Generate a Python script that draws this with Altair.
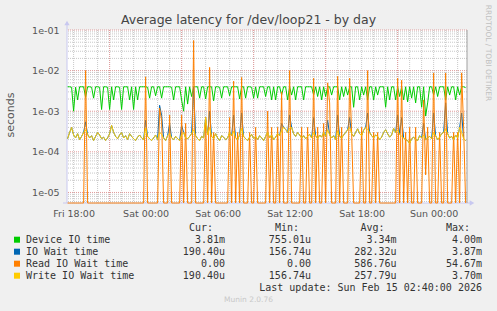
import altair as alt
import pandas as pd

# ---------------- data (milliseconds, 10-minute samples) ----------------
device_ms = [
    4.0, 4.0, 3.9, 1.0, 3.9, 1.9, 4.0, 4.0, 4.0, 2.2,
    4.0, 4.0, 3.9, 2.1, 4.0, 4.0, 3.9, 1.1, 4.0, 4.0,
    3.9, 1.1, 4.0, 1.9, 4.0, 4.0, 3.9, 1.1, 4.0, 4.0,
    4.0, 1.9, 4.0, 1.1, 4.0, 1.9, 4.0, 4.0, 4.0, 4.0,
    3.9, 2.1, 4.0, 4.0, 2.4, 4.0, 4.0, 2.1, 4.0, 4.0,
    4.0, 4.0, 3.9, 1.9, 4.0, 4.0, 4.0, 1.9, 1.0, 4.0,
    1.5, 4.0, 2.3, 4.0, 4.0, 4.0, 2.1, 4.0, 4.0, 2.0,
    4.0, 4.0, 4.0, 1.8, 4.0, 4.0, 3.9, 2.1, 4.0, 4.0,
    4.0, 2.4, 4.0, 4.0, 4.0, 4.0, 2.0, 4.0, 4.0, 2.1,
    4.0, 4.0, 3.9, 2.1, 4.0, 2.1, 4.0, 4.0, 4.0, 2.3,
    4.0, 4.0, 1.9, 4.0, 1.9, 4.0, 4.0, 2.5, 4.0, 4.0,
    1.9, 4.0, 2.5, 4.0, 1.9, 4.0, 4.0, 4.0, 1.9, 4.0,
    4.0, 4.0, 4.0, 2.5, 4.0, 2.3, 4.0, 1.9, 4.0, 2.3,
    4.0, 4.0, 2.5, 4.0, 4.0, 4.0, 1.9, 4.0, 2.3, 4.0,
    2.5, 4.0, 4.0, 1.25, 4.0, 4.0, 1.9, 4.0, 2.5, 4.0,
    1.9, 4.0, 4.0, 1.9, 4.0, 2.5, 4.0, 4.0, 4.0, 1.25,
    4.0, 1.9, 4.0, 4.0, 1.9, 4.0, 2.3, 4.0, 1.9, 4.0,
    1.7, 4.0, 2.1, 4.0, 1.6, 4.0, 4.0, 1.25, 4.0, 0.76,
    1.6, 4.0, 4.0, 2.5, 4.0, 2.3, 4.0, 4.0, 4.0, 1.9,
    4.0, 2.5, 4.0, 4.0, 1.9, 4.0, 2.5, 4.0, 4.0, 3.81,
]

iowait_ms = [
    0.21, 0.30, 0.40, 0.26, 0.22, 0.28, 0.20, 0.24, 0.30, 0.55,
    0.27, 0.22, 0.25, 0.19, 0.24, 0.30, 0.26, 0.21, 0.23, 0.19,
    0.22, 0.28, 0.45, 0.30, 0.24, 0.21, 0.26, 0.30, 0.22, 0.25,
    0.20, 0.28, 0.24, 0.21, 0.19, 0.23, 0.26, 0.22, 0.20, 0.60,
    0.24, 0.21, 0.19, 0.22, 0.26, 0.20, 1.40, 0.80, 0.22, 0.19,
    0.25, 0.50, 0.22, 0.20, 0.24, 0.21, 0.19, 0.45, 0.30, 0.22,
    0.21, 0.24, 0.28, 3.87, 0.25, 0.21, 0.19, 0.24, 0.22, 0.70,
    0.26, 1.00, 0.24, 0.21, 0.28, 0.22, 0.19, 0.25, 0.23, 0.20,
    0.22, 0.30, 0.25, 0.80, 0.22, 0.20, 0.26, 0.90, 0.24, 0.21,
    0.19, 0.23, 0.27, 0.21, 0.24, 0.20, 0.25, 0.22, 0.19, 0.24,
    0.30, 0.22, 0.26, 0.20, 0.23, 0.28, 0.25, 0.50, 0.40, 0.36,
    0.30, 0.80, 0.40, 0.28, 0.24, 0.30, 0.26, 0.22, 0.25, 0.21,
    0.24, 0.27, 0.22, 0.70, 0.25, 0.21, 0.26, 0.23, 0.30, 0.24,
    0.60, 0.26, 0.22, 0.25, 0.20, 0.80, 0.24, 0.22, 0.26, 0.30,
    0.35, 0.70, 0.28, 0.24, 0.30, 0.37, 0.28, 0.25, 0.34, 0.40,
    0.90, 0.30, 0.25, 0.22, 0.26, 0.24, 0.20, 0.23, 0.30, 0.35,
    0.28, 0.23, 0.26, 0.38, 0.30, 0.80, 0.27, 0.70, 0.22, 0.20,
    0.19, 0.16, 0.21, 0.23, 0.20, 0.19, 0.25, 0.22, 0.50, 0.20,
    0.22, 0.24, 0.21, 0.90, 0.25, 0.20, 0.23, 0.28, 0.30, 1.60,
    0.28, 0.22, 0.24, 0.20, 0.26, 0.22, 0.40, 0.90, 0.21, 0.19,
]

read_ms = [
    0, 0, 0, 0, 0, 0, 0, 0, 0, 10.0,
    0, 0, 0, 0, 0, 0, 0, 0, 0, 0,
    0, 0, 0, 0, 0, 0, 0, 0, 0, 0,
    0, 0, 0, 0, 0, 0, 0, 0, 0, 7.0,
    0, 0, 0, 0, 0, 0, 1.2, 0.6, 0, 0,
    0, 0.8, 0, 0, 0, 0, 0, 0.8, 0, 0.5,
    0, 0, 0, 55.0, 0, 0, 0, 0, 0, 0.7,
    0, 12.0, 0, 0.3, 0, 0, 0, 0, 0, 0,
    0, 0.7, 0, 5.5, 0, 0.3, 0, 6.8, 0, 0,
    0, 0.3, 0, 0, 0.4, 0, 0, 0, 0, 0,
    1.0, 0, 0.4, 0, 0, 0.4, 0, 3.0, 0, 0,
    0, 10.0, 0, 0, 0, 0, 0, 0.4, 0, 0,
    0.4, 0, 0, 6.5, 0, 0.4, 0, 0, 0.5, 0,
    5.0, 1.6, 0, 0, 0, 7.2, 0, 0.4, 0, 0,
    0, 6.5, 0.3, 0, 0, 0, 0, 0.4, 0, 0,
    10.0, 0, 0, 0.3, 0, 0.3, 0, 0, 0, 0,
    0, 0, 0, 0, 0, 6.5, 0, 5.8, 0, 0.3,
    0, 0.4, 0, 0, 0.4, 0, 0, 0, 1.9, 0.027,
    0.4, 0, 0, 8.7, 0, 0, 0.3, 0, 0, 8.7,
    0, 0, 0, 0.3, 0, 0.3, 0, 8.8, 0.4, 0,
]

write_ms = [
    0.21, 0.30, 0.40, 0.26, 0.22, 0.28, 0.20, 0.24, 0.30, 0.35,
    0.27, 0.22, 0.25, 0.19, 0.24, 0.30, 0.26, 0.21, 0.23, 0.19,
    0.22, 0.28, 0.45, 0.30, 0.24, 0.21, 0.26, 0.30, 0.22, 0.25,
    0.20, 0.28, 0.24, 0.21, 0.19, 0.23, 0.26, 0.22, 0.20, 0.38,
    0.24, 0.21, 0.19, 0.22, 0.26, 0.20, 0.30, 0.27, 0.22, 0.19,
    0.25, 0.28, 0.22, 0.20, 0.24, 0.21, 0.19, 0.26, 0.30, 0.22,
    0.21, 0.24, 0.28, 0.35, 0.25, 0.21, 0.19, 0.24, 0.22, 0.70,
    0.26, 0.40, 0.24, 0.21, 0.28, 0.22, 0.19, 0.25, 0.23, 0.20,
    0.22, 0.30, 0.25, 0.32, 0.22, 0.20, 0.26, 0.38, 0.24, 0.21,
    0.19, 0.23, 0.27, 0.21, 0.24, 0.20, 0.25, 0.22, 0.19, 0.24,
    0.30, 0.22, 0.26, 0.20, 0.23, 0.28, 0.25, 0.33, 0.40, 0.36,
    0.30, 0.38, 0.40, 0.28, 0.24, 0.30, 0.26, 0.22, 0.25, 0.21,
    0.24, 0.27, 0.22, 0.30, 0.25, 0.21, 0.26, 0.23, 0.30, 0.24,
    0.35, 0.26, 0.22, 0.25, 0.20, 0.33, 0.24, 0.22, 0.26, 0.30,
    0.35, 0.40, 0.28, 0.24, 0.30, 0.37, 0.28, 0.25, 0.34, 0.40,
    0.36, 0.30, 0.25, 0.22, 0.26, 0.24, 0.20, 0.23, 0.30, 0.35,
    0.28, 0.23, 0.26, 0.38, 0.30, 0.34, 0.27, 0.24, 0.22, 0.20,
    0.19, 0.16, 0.21, 0.23, 0.20, 0.19, 0.25, 0.22, 0.26, 0.20,
    0.22, 0.24, 0.21, 0.30, 0.25, 0.20, 0.23, 0.28, 0.30, 0.36,
    0.28, 0.22, 0.24, 0.20, 0.26, 0.22, 0.40, 0.30, 0.21, 0.19,
]

series_names = ["Device IO time", "IO Wait time", "Read IO Wait time", "Write IO Wait time"]
series_colors = ["#00CC00", "#0066B3", "#FF8000", "#FFCC00"]
cur_vals = ["3.81m", "190.40u", "0.00", "190.40u"]
min_vals = ["755.01u", "156.74u", "0.00", "156.74u"]
avg_vals = ["3.34m", "282.32u", "586.76u", "257.79u"]
max_vals = ["4.00m", "3.87m", "54.67m", "3.70m"]

tick_hours = [0, 6, 12, 18, 24, 30]
tick_labels = ["Fri 18:00", "Sat 00:00", "Sat 06:00", "Sat 12:00", "Sat 18:00", "Sun 00:00"]
decades = [1e-5, 1e-4, 1e-3, 1e-2, 1e-1]

title_text = "Average latency for /dev/loop21 - by day"
last_update = "Last update: Sun Feb 15 02:40:00 2026"

# ---------------- layout ----------------
LEFT, TOP, W, H = 67, 30, 400, 173
YMIN, YMAX = 5.5e-6, 0.1
XMIN, XMAX = -0.55, 32.78
START_H, STEP_H = -0.5, 1.0 / 6.0

hours = [START_H + i * STEP_H for i in range(len(device_ms))]

xscale = alt.Scale(domain=[XMIN, XMAX], nice=False, zero=False)
yscale = alt.Scale(type="log", domain=[YMIN, YMAX], nice=False)

label_js = "[" + ",".join("'%s'" % s for s in tick_labels) + "]"
xaxis = alt.Axis(values=tick_hours, labelExpr=label_js + "[round(datum.value/6)]",
                 grid=False, ticks=False, domain=False, title=None,
                 labelFont="DejaVu Sans", labelFontSize=9.5, labelColor="#555555",
                 labelPadding=5, labelFlush=False, labelOverlap=False)
yaxis = alt.Axis(values=decades, labelExpr="'1e-0' + round(-log(datum.value)/LN10)",
                 grid=False, ticks=False, domain=False, title=None,
                 labelFont="DejaVu Sans", labelFontSize=9.5, labelColor="#555555",
                 labelPadding=8, labelFlush=False, labelOverlap=False)

X = lambda f: alt.X(f, scale=xscale, axis=xaxis)
Y = lambda f: alt.Y(f, scale=yscale, axis=yaxis)

layers = []

# grid
hour_lines = [h for h in range(0, 33)]
major_hours = [3, 9, 15, 21, 27]
minor_y = [k * 10.0 ** e for e in range(-6, 0) for k in range(2, 10) if YMIN <= k * 10.0 ** e <= YMAX]

layers.append(alt.Chart(pd.DataFrame({"h": hour_lines})).mark_rule(
    color="#C8C8C8", strokeDash=[1, 1], strokeWidth=1).encode(x=X("h:Q")))
layers.append(alt.Chart(pd.DataFrame({"v": minor_y})).mark_rule(
    color="#C8C8C8", strokeDash=[1, 1], strokeWidth=1).encode(y=Y("v:Q")))
layers.append(alt.Chart(pd.DataFrame({"h": major_hours})).mark_rule(
    color="#E09A9A", strokeDash=[1, 1], strokeWidth=1).encode(x=X("h:Q")))
layers.append(alt.Chart(pd.DataFrame({"v": decades})).mark_rule(
    color="#E09A9A", strokeDash=[1, 1], strokeWidth=1).encode(y=Y("v:Q")))

# axis lines (lavender) with arrows
one = pd.DataFrame({"a": [0]})
layers.append(alt.Chart(one).mark_rule(color="#C8C8F0", strokeWidth=1).encode(
    x=alt.value(0), y=alt.value(H), y2=alt.value(-6)))
layers.append(alt.Chart(one).mark_rule(color="#C8C8F0", strokeWidth=1).encode(
    x=alt.value(-4), x2=alt.value(W + 3), y=alt.value(H)))
layers.append(alt.Chart(one).mark_point(shape="triangle-up", filled=True, size=28,
                                        color="#C8C8F0", opacity=1).encode(
    x=alt.value(0), y=alt.value(-7)))
layers.append(alt.Chart(one).mark_point(shape="triangle-right", filled=True, size=28,
                                        color="#C8C8F0", opacity=1).encode(
    x=alt.value(W + 5), y=alt.value(H)))
# right border
layers.append(alt.Chart(one).mark_rule(color="#A0A0A0", strokeWidth=1).encode(
    x=alt.value(W), y=alt.value(0), y2=alt.value(H)))

# series
for vals, col in zip([device_ms, iowait_ms, read_ms, write_ms], series_colors):
    df = pd.DataFrame({"h": hours, "v": [max(v / 1000.0, YMIN) for v in vals]})
    layers.append(alt.Chart(df).mark_line(color=col, strokeWidth=1, interpolate="linear").encode(
        x=X("h:Q"), y=Y("v:Q")))


def txt(s, x, y, size=10, font="DejaVu Sans", color="#333333", align="left",
        baseline="middle", angle=0):
    return alt.Chart(pd.DataFrame({"t": [s]})).mark_text(
        font=font, fontSize=size, color=color, align=align, baseline=baseline,
        angle=angle).encode(x=alt.value(x - LEFT), y=alt.value(y - TOP), text="t:N")


layers.append(txt(title_text, 248.5, 24, size=12.5, color="#444444", align="center",
                  baseline="alphabetic"))
layers.append(txt("seconds", 11, 115, size=11, color="#555555", align="center", angle=270))
layers.append(txt("RRDTOOL / TOBI OETIKER", 487.5, 53, size=7.5, color="#C0C0C0",
                  align="center", angle=90))
layers.append(txt("Munin 2.0.76", 248.5, 300, size=7.5, color="#C8C8C8", align="center"))

MONO = "DejaVu Sans Mono"
col_edges = [225, 311, 396.5, 482]
headers = ["Cur:", "Min:", "Avg:", "Max:"]
for hdr, edge in zip(headers, col_edges):
    layers.append(txt(hdr, edge - 12, 228.3, font=MONO, align="right"))

row_y = [239.7, 251.7, 263.7, 275.7]
for k in range(4):
    y = row_y[k]
    layers.append(alt.Chart(one).mark_rect(color=series_colors[k]).encode(
        x=alt.value(14 - LEFT), x2=alt.value(20 - LEFT),
        y=alt.value(y - 3 - TOP), y2=alt.value(y + 3 - TOP)))
    layers.append(txt(series_names[k], 26, y, font=MONO))
    for vals, edge in zip([cur_vals, min_vals, avg_vals, max_vals], col_edges):
        s = vals[k]
        if s[-1].isdigit():
            s = s + "\u00a0"
        layers.append(txt(s, edge, y, font=MONO, align="right"))

layers.append(txt(last_update, 482, 287.7, font=MONO, align="right"))

chart = alt.layer(*layers).properties(
    width=W, height=H,
    padding={"left": LEFT, "top": TOP, "right": 497 - LEFT - W, "bottom": 311 - TOP - H},
    autosize=alt.AutoSizeParams(type="none"),
    background="#F0F0F0",
).configure_view(fill="white", strokeWidth=0)

chart.save("out.html", embed_options={"renderer": "svg", "actions": False})
